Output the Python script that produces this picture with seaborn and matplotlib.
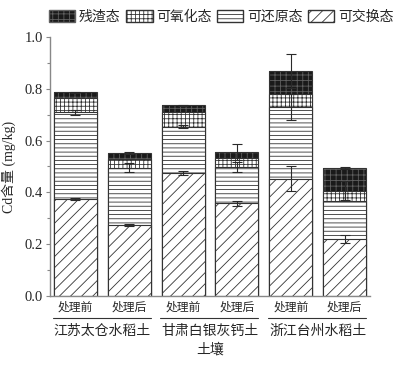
import numpy as np
import pandas as pd
import matplotlib
matplotlib.use('Agg')
import matplotlib.pyplot as plt
from matplotlib.patches import Patch
from matplotlib.ticker import MultipleLocator
import seaborn as sns

# Cd fractions per sample (mg/kg)
soils = ['江苏太仓水稻土', '甘肃白银灰钙土', '浙江台州水稻土']
treatments = ['处理前', '处理后']
fractions = ['残渣态', '可氧化态', '可还原态', '可交换态']

exchangeable = [0.375, 0.273, 0.474, 0.358, 0.453, 0.220]
reducible = [0.334, 0.222, 0.180, 0.140, 0.276, 0.148]
oxidizable = [0.054, 0.034, 0.058, 0.036, 0.051, 0.039]
residual = [0.023, 0.024, 0.024, 0.022, 0.089, 0.087]

err_exch = [0.003, 0.004, 0.008, 0.010, 0.048, 0.015]
err_red = [0.011, 0.018, 0.006, 0.018, 0.050, 0.0]
err_oxi = [0.0, 0.0, 0.0, 0.0, 0.0, 0.036]
err_res = [0.003, 0.003, 0.003, 0.030, 0.065, 0.003]

sns.set_style('white')
plt.rcParams['font.family'] = ['Liberation Serif', 'Noto Sans CJK SC']
plt.rcParams['hatch.linewidth'] = 0.6
plt.rcParams['axes.unicode_minus'] = False

pos = list(range(len(exchangeable)))
df = pd.DataFrame({'pos': pos, 'exch': exchangeable, 'red': reducible,
                   'oxi': oxidizable, 'res': residual})
df['top_exch'] = df['exch']
df['top_red'] = df['top_exch'] + df['red']
df['top_oxi'] = df['top_red'] + df['oxi']
df['top_res'] = df['top_oxi'] + df['res']

fig = plt.figure(figsize=(3.96, 3.66), dpi=100)
ax = fig.add_axes([50 / 396, 1 - 296 / 366, 320 / 396, 259 / 366])

edge = '#333333'
res_face = '#1a1a1a'
res_hatch = '#606060'


def draw_layer(col, face, hatch, ec, lw=0.8):
    n0 = len(ax.patches)
    sns.barplot(data=df, x='pos', y=col, ax=ax, color='white', width=0.8,
                errorbar=None, saturation=1)
    for p in ax.patches[n0:]:
        p.set_facecolor(face)
        p.set_edgecolor(ec)
        p.set_hatch(hatch)
        p.set_linewidth(lw)


# tallest first, then cover with the lower fractions
draw_layer('top_res', res_face, '+++', res_hatch, 0.0)
draw_layer('top_res', 'none', '', edge)
draw_layer('top_oxi', 'white', '++++', edge)
draw_layer('top_red', 'white', '----', edge)
draw_layer('top_exch', 'white', '///', edge)

# error bars on top of each fraction
for col, err in [('top_exch', err_exch), ('top_red', err_red),
                 ('top_oxi', err_oxi), ('top_res', err_res)]:
    e = np.array(err)
    m = e > 0
    ax.errorbar(df['pos'][m], df[col][m], yerr=e[m], fmt='none',
                ecolor='#2a2a2a', elinewidth=0.8, capsize=3.5,
                capthick=0.8, zorder=5)

ax.set_xlim(-0.47, 5.47)
ax.set_ylim(0, 1.0)
ax.yaxis.set_minor_locator(MultipleLocator(0.1))
ax.set_yticks([0, 0.2, 0.4, 0.6, 0.8, 1.0], ['0.0', '0.2', '0.4', '0.6', '0.8', '1.0'])
ax.tick_params(axis='y', which='major', direction='out', length=3, width=0.8,
               color='#888888', labelsize=10.5, pad=2, left=True)
ax.tick_params(axis='y', which='minor', direction='out', length=2, width=0.8,
               color='#888888', left=True)
ax.set_xticks(pos, treatments * 3)
ax.tick_params(axis='x', length=0, labelsize=8.5, pad=4)

for s in ['top', 'right']:
    ax.spines[s].set_visible(False)
for s in ['left', 'bottom']:
    ax.spines[s].set_color('#888888')
    ax.spines[s].set_linewidth(1.0)

ax.set_ylabel('Cd含量 (mg/kg)', fontsize=10)
ax.yaxis.set_label_coords(-0.105, 0.5)
ax.set_xlabel('土壤', fontsize=10)
ax.xaxis.set_label_coords(0.5, -0.18)

trans = ax.get_xaxis_transform()
for i, name in enumerate(soils):
    ax.plot([2 * i - 0.42, 2 * i + 1.40], [-0.085, -0.085], color='#333333',
            lw=0.8, transform=trans, clip_on=False)
    ax.text(2 * i + 0.5, -0.135, name, transform=trans, ha='center',
            va='center', fontsize=10)

handles = [
    Patch(facecolor=res_face, edgecolor=res_hatch, hatch='+++', label=fractions[0]),
    Patch(facecolor='white', edgecolor=edge, hatch='++++', label=fractions[1]),
    Patch(facecolor='white', edgecolor=edge, hatch='----', label=fractions[2]),
    Patch(facecolor='white', edgecolor=edge, hatch='///', label=fractions[3]),
]
fig.legend(handles=handles, loc='center left', bbox_to_anchor=(0.124, 0.954),
           ncol=4, frameon=False, fontsize=10, handlelength=1.9,
           handleheight=1.0, handletextpad=0.25, columnspacing=0.4,
           borderpad=0, borderaxespad=0)

fig.savefig('out.png', dpi=100)
